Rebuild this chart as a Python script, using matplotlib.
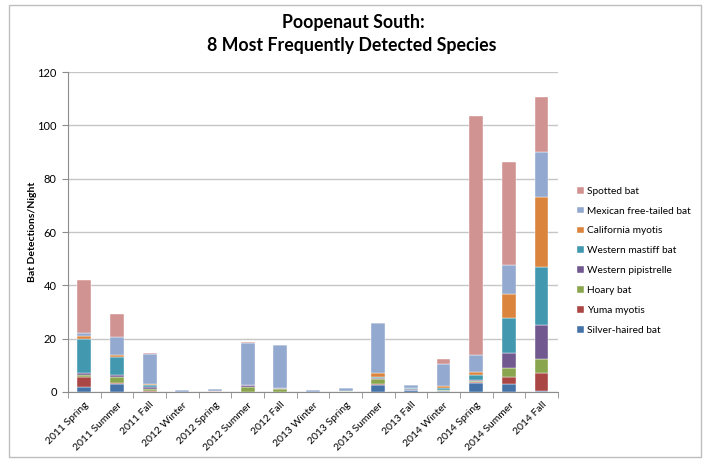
import matplotlib
matplotlib.use('Agg')
import matplotlib.pyplot as plt
from matplotlib.patches import Rectangle
import numpy as np

plt.rcParams['font.family'] = ['Lato', 'DejaVu Sans']

# Data: bat detections per night by season, stacked by species
seasons = ['2011 Spring', '2011 Summer', '2011 Fall', '2012 Winter', '2012 Spring',
           '2012 Summer', '2012 Fall', '2013 Winter', '2013 Spring', '2013 Summer',
           '2013 Fall', '2014 Winter', '2014 Spring', '2014 Summer', '2014 Fall']

species = ['Silver-haired bat', 'Yuma myotis', 'Hoary bat', 'Western pipistrelle',
           'Western mastiff bat', 'California myotis', 'Mexican free-tailed bat', 'Spotted bat']

silver_haired = [2.0, 3.0, 0.0, 0.0, 0.0, 0.0, 0.0, 0.0, 0.0, 2.8, 0.6, 0.3, 3.3, 3.0, 0.2]
yuma_myotis   = [3.8, 0.3, 0.2, 0.0, 0.2, 0.0, 0.0, 0.0, 0.0, 0.3, 0.0, 0.1, 0.5, 2.75, 6.8]
hoary_bat     = [0.6, 2.5, 1.0, 0.1, 0.0, 1.9, 1.0, 0.0, 0.4, 1.7, 0.2, 0.3, 0.3, 3.4, 5.5]
w_pipistrelle = [0.9, 0.4, 0.6, 0.0, 0.3, 0.6, 0.4, 0.0, 0.0, 0.3, 0.2, 0.2, 0.3, 5.6, 12.8]
w_mastiff     = [12.5, 7.0, 1.0, 0.0, 0.0, 0.0, 0.0, 0.0, 0.0, 0.4, 0.4, 0.6, 1.8, 13.0, 21.5]
ca_myotis     = [1.2, 0.5, 0.2, 0.0, 0.0, 0.0, 0.0, 0.0, 0.0, 1.8, 0.0, 0.6, 1.2, 9.1, 26.4]
mex_freetail  = [1.2, 7.0, 11.3, 0.8, 0.8, 16.0, 16.1, 0.8, 1.0, 18.6, 1.2, 8.4, 6.3, 10.8, 17.0]
spotted_bat   = [19.8, 8.5, 0.2, 0.0, 0.0, 0.2, 0.0, 0.0, 0.0, 0.1, 0.2, 1.8, 89.8, 38.8, 20.5]

series = [silver_haired, yuma_myotis, hoary_bat, w_pipistrelle,
          w_mastiff, ca_myotis, mex_freetail, spotted_bat]
colors = ['#4572A7', '#AA4643', '#89A54E', '#71588F',
          '#4198AF', '#DB843D', '#93A9CF', '#D19392']

fig = plt.figure(figsize=(7.03, 4.59), dpi=100)
ax = fig.add_axes([0.0967, 0.146, 0.697, 0.697])

x = np.arange(len(seasons))
bottom = np.zeros(len(seasons))
handles = []
for vals, name, col in zip(series, species, colors):
    h = ax.bar(x, vals, 0.42, bottom=bottom, color=col, label=name,
               edgecolor='white', linewidth=0.3, zorder=3)
    handles.append(h)
    bottom += np.array(vals)

ax.set_xlim(-0.5, len(seasons) - 0.5)
ax.set_ylim(0, 120)
ax.set_yticks(np.arange(0, 121, 20))
ax.grid(axis='y', color='#c6c6c6', linewidth=1.0, zorder=0)

for side in ['top', 'right']:
    ax.spines[side].set_visible(False)
ax.spines['left'].set_color('#8c8c8c')
ax.spines['bottom'].set_color('#8c8c8c')

ax.set_xticks(x)
ax.set_xticklabels(seasons, rotation=45, ha='right', rotation_mode='anchor', fontsize=7.5)
ax.set_xticks(np.arange(-0.5, len(seasons)), minor=True)
ax.tick_params(axis='x', which='major', length=0, pad=6)
ax.tick_params(axis='x', which='minor', length=4, color='#8c8c8c')
ax.tick_params(axis='y', length=4, color='#8c8c8c', labelsize=8, pad=4)

ax.set_ylabel('Bat Detections/Night', fontsize=7.5, fontweight='bold', labelpad=0)

fig.text(0.503, 0.952, 'Poopenaut South:', ha='center', va='center',
         fontsize=12.8, fontweight='bold')
fig.text(0.501, 0.900, '8 Most Frequently Detected Species', ha='center', va='center',
         fontsize=12.8, fontweight='bold')

fig.legend(handles[::-1], species[::-1], loc='upper left',
           bbox_to_anchor=(0.808, 0.613), frameon=False, fontsize=7.3,
           handlelength=0.65, handleheight=0.65, handletextpad=0.3,
           labelspacing=1.07)

# light gray frame around the whole chart area
fig.patches.append(Rectangle((0.013, 0.004), 0.984, 0.985, transform=fig.transFigure,
                             fill=False, edgecolor='#bdbdbd', linewidth=1.0))

fig.savefig('out.png', dpi=100)
